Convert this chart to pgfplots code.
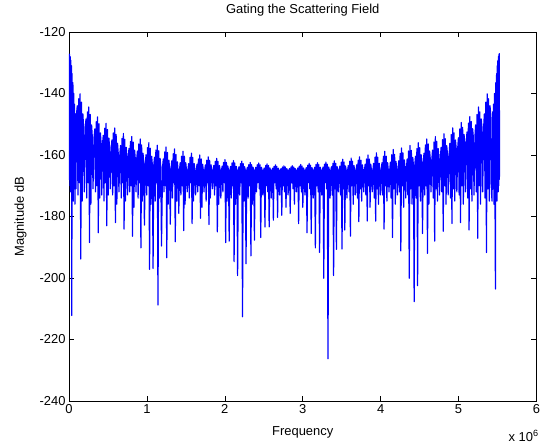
\documentclass[border=0pt]{standalone}
\usepackage{fontspec}
\setmainfont{Liberation Sans}
\usepackage{pgfplots}
\pgfplotsset{compat=1.18}

\begin{document}
\begin{tikzpicture}
\useasboundingbox (-69bp,-45bp) rectangle (471bp,401bp);
\begin{axis}[
    at={(0,0)}, anchor=south west,
    scale only axis,
    width=467.5bp, height=369bp,
    xmin=0, xmax=6, ymin=-240, ymax=-120,
    xtick={0,1,...,6},
    ytick={-240,-220,...,-120},
    tick align=inside, tick pos=both,
    major tick length=5bp,
    axis line style={line width=0.6bp},
    every tick/.style={black, line width=0.6bp},
    font=\fontsize{13}{15}\selectfont,
    /pgf/number format/assume math mode=true,
    title={Gating the Scattering Field},
    xlabel={Frequency},
    ylabel={Magnitude dB},
    title style={at={(axis description cs:0.5,1.035)}, anchor=base},
    every axis x label/.style={at={(axis description cs:0.5,-0.093)}, anchor=base},
    every axis y label/.style={at={(axis description cs:-0.0963,0.5)}, rotate=90, anchor=base},
]
% frequency in units of 10^6, magnitude in dB
\addplot[blue, line width=1.2pt, line join=round] table {
x y
0.000 -127.0
0.004 -168
0.008 -127.3
0.012 -170
0.016 -128.0
0.020 -172
0.024 -129.2
0.028 -170
0.032 -131.0
0.036 -212.2
0.040 -133.5
0.045 -172
0.050 -136.5
0.055 -175
0.060 -140.0
0.065 -171
0.070 -143.5
0.076 -176
0.082 -146.6
0.089 -171
0.097 -146.6
0.106 -144.0
0.115 -173
0.124 -141.7
0.133 -169
0.142 -140.1
0.151 -193.8
0.160 -142.8
0.169 -175
0.178 -146.6
0.187 -150.9
0.196 -172
0.209 -150.9
0.218 -148.3
0.227 -174
0.236 -146.0
0.245 -169
0.254 -144.4
0.263 -188.5
0.272 -146.8
0.281 -176
0.290 -150.2
0.299 -154.1
0.308 -171
0.322 -154.1
0.331 -151.5
0.340 -172
0.349 -149.2
0.358 -170
0.367 -147.6
0.376 -185.3
0.385 -149.8
0.394 -174
0.403 -152.8
0.412 -156.2
0.421 -173
0.431 -156.2
0.440 -153.6
0.449 -175
0.458 -151.3
0.467 -169
0.476 -149.7
0.485 -183.0
0.494 -151.7
0.503 -173
0.512 -154.5
0.521 -157.7
0.530 -171
0.542 -157.7
0.551 -155.1
0.560 -173
0.569 -152.8
0.578 -170
0.587 -151.2
0.596 -182.0
0.605 -153.3
0.614 -176
0.623 -156.2
0.632 -159.5
0.641 -172
0.653 -159.5
0.662 -156.9
0.671 -174
0.680 -154.6
0.689 -169
0.698 -153.0
0.707 -184.1
0.716 -154.9
0.725 -175
0.734 -157.5
0.743 -160.5
0.752 -173
0.761 -160.5
0.770 -157.9
0.779 -172
0.788 -155.6
0.797 -170
0.806 -154.0
0.815 -186.4
0.824 -155.8
0.833 -177
0.842 -158.4
0.851 -161.3
0.860 -172
0.869 -161.3
0.878 -158.7
0.887 -174
0.896 -156.4
0.905 -169
0.914 -154.8
0.923 -190.2
0.932 -156.7
0.941 -175
0.950 -159.4
0.959 -162.5
0.968 -182.8
0.980 -162.5
0.989 -159.9
0.998 -173
1.007 -157.6
1.016 -170
1.025 -156.0
1.034 -197.2
1.043 -157.8
1.052 -176
1.061 -160.4
1.070 -163.3
1.079 -196.9
1.088 -163.3
1.097 -160.7
1.106 -175
1.115 -158.4
1.124 -169
1.133 -156.8
1.142 -208.8
1.151 -158.6
1.160 -174
1.169 -161.1
1.178 -163.9
1.187 -189.6
1.201 -163.9
1.210 -161.3
1.219 -172
1.228 -159.0
1.237 -170
1.246 -157.4
1.255 -193.4
1.264 -159.2
1.273 -176
1.282 -161.7
1.291 -164.5
1.300 -182.5
1.310 -164.5
1.319 -161.9
1.328 -174
1.337 -159.6
1.346 -169
1.355 -158.0
1.364 -188.2
1.373 -159.8
1.382 -175
1.391 -162.2
1.400 -165.0
1.409 -179
1.418 -165.0
1.427 -162.5
1.436 -173
1.445 -160.4
1.454 -170
1.463 -158.8
1.472 -184.6
1.481 -160.4
1.490 -176
1.499 -162.5
1.508 -165.0
1.517 -172
1.526 -165.0
1.535 -162.8
1.544 -174
1.553 -160.8
1.562 -169
1.571 -159.4
1.580 -182.3
1.589 -160.8
1.598 -175
1.607 -162.8
1.616 -165.0
1.625 -173
1.634 -165.0
1.643 -163.0
1.652 -172
1.661 -161.3
1.670 -170
1.679 -160.0
1.688 -180.6
1.697 -161.3
1.706 -177
1.715 -163.0
1.724 -165.0
1.733 -172
1.742 -165.0
1.751 -163.2
1.760 -175
1.769 -161.7
1.778 -169
1.787 -160.6
1.796 -182.6
1.805 -161.7
1.814 -174
1.823 -163.2
1.832 -165.0
1.841 -171
1.850 -165.0
1.859 -163.4
1.868 -173
1.877 -162.1
1.886 -170
1.895 -161.1
1.904 -185.0
1.913 -162.1
1.922 -176
1.931 -163.4
1.940 -165.0
1.949 -174
1.957 -165.0
1.966 -163.6
1.975 -172
1.984 -162.4
1.993 -169
2.002 -161.5
2.011 -188.5
2.020 -162.4
2.029 -175
2.038 -163.6
2.047 -165.0
2.056 -188.0
2.065 -165.0
2.074 -163.7
2.083 -174
2.092 -162.6
2.101 -170
2.110 -161.8
2.119 -194.7
2.128 -162.6
2.137 -176
2.146 -163.7
2.155 -165.0
2.164 -199.2
2.173 -165.0
2.182 -163.8
2.191 -173
2.200 -162.8
2.209 -169
2.218 -162.0
2.227 -212.6
2.236 -162.8
2.245 -175
2.254 -163.8
2.263 -165.0
2.272 -195.4
2.281 -165.0
2.290 -164.0
2.299 -174
2.308 -163.1
2.317 -170
2.326 -162.4
2.335 -192.8
2.344 -163.1
2.353 -176
2.362 -164.0
2.371 -165.0
2.380 -187.7
2.389 -165.0
2.398 -164.0
2.407 -172
2.416 -163.2
2.425 -169
2.434 -162.6
2.443 -171
2.452 -163.2
2.461 -186.8
2.470 -164.0
2.479 -165.0
2.488 -173
2.497 -165.0
2.506 -164.2
2.515 -183.4
2.524 -163.4
2.533 -170
2.542 -162.9
2.551 -172
2.560 -163.4
2.569 -183.4
2.578 -164.2
2.587 -165.0
2.596 -174
2.605 -165.0
2.614 -164.3
2.623 -181.2
2.632 -163.7
2.641 -169
2.650 -163.2
2.659 -171
2.668 -163.7
2.677 -180.3
2.686 -164.3
2.695 -165.0
2.704 -173
2.713 -165.0
2.722 -164.4
2.731 -179.6
2.740 -163.9
2.749 -170
2.758 -163.5
2.767 -172
2.776 -163.9
2.785 -177
2.794 -164.4
2.803 -165.0
2.812 -173
2.821 -165.0
2.830 -164.4
2.839 -179.0
2.848 -163.9
2.857 -169
2.866 -163.5
2.875 -171
2.884 -163.9
2.893 -176
2.902 -164.4
2.911 -165.0
2.920 -172
2.929 -165.0
2.938 -164.2
2.947 -182.3
2.956 -163.6
2.965 -170
2.974 -163.1
2.983 -172
2.992 -163.6
3.001 -177
3.010 -164.2
3.019 -165.0
3.028 -173
3.037 -165.0
3.046 -164.1
3.055 -185.3
3.064 -163.3
3.073 -169
3.082 -162.7
3.091 -171
3.100 -163.3
3.109 -185.5
3.118 -164.1
3.127 -165.0
3.136 -174
3.144 -165.0
3.153 -164.0
3.162 -190.2
3.171 -163.1
3.180 -170
3.189 -162.5
3.198 -172
3.207 -163.1
3.216 -191.7
3.225 -164.0
3.234 -165.0
3.243 -173
3.252 -165.0
3.261 -163.9
3.270 -200.1
3.279 -163.0
3.288 -169
3.297 -162.3
3.306 -171
3.315 -163.0
3.324 -226.3
3.333 -163.9
3.342 -165.0
3.351 -174
3.360 -165.0
3.369 -163.8
3.378 -173
3.387 -162.7
3.396 -199.2
3.405 -161.9
3.414 -171
3.423 -162.7
3.432 -190.7
3.441 -163.8
3.450 -165.0
3.459 -172
3.468 -165.0
3.477 -163.6
3.486 -173
3.495 -162.3
3.504 -190.6
3.513 -161.4
3.522 -171
3.531 -162.3
3.540 -184.4
3.549 -163.6
3.558 -165.0
3.567 -174
3.576 -165.0
3.585 -163.4
3.594 -172
3.603 -162.0
3.612 -186.4
3.621 -161.0
3.630 -170
3.639 -162.0
3.648 -176
3.657 -163.4
3.666 -165.0
3.675 -173
3.684 -165.0
3.693 -163.2
3.702 -174
3.711 -161.7
3.720 -181.7
3.729 -160.6
3.738 -171
3.747 -161.7
3.756 -175
3.765 -163.2
3.774 -165.0
3.783 -172
3.792 -165.0
3.801 -163.0
3.810 -173
3.819 -161.3
3.828 -181.5
3.837 -160.0
3.846 -170
3.855 -161.3
3.864 -177
3.873 -163.0
3.882 -165.0
3.891 -172
3.900 -165.0
3.909 -162.7
3.918 -174
3.927 -160.7
3.936 -181.5
3.945 -159.3
3.954 -171
3.963 -160.7
3.972 -176
3.981 -162.7
3.990 -165.0
3.999 -173
4.008 -165.0
4.017 -162.5
4.026 -173
4.035 -160.4
4.044 -184.1
4.053 -158.8
4.062 -170
4.071 -160.4
4.080 -175
4.089 -162.5
4.098 -165.0
4.107 -172
4.116 -165.0
4.125 -162.3
4.134 -174
4.143 -159.9
4.152 -186.8
4.161 -158.2
4.170 -171
4.179 -159.8
4.188 -176
4.197 -162.1
4.206 -164.7
4.215 -173
4.223 -164.7
4.232 -161.9
4.241 -172
4.250 -159.5
4.259 -191.2
4.268 -157.7
4.277 -170
4.286 -159.3
4.295 -177
4.304 -161.6
4.313 -164.2
4.322 -174
4.331 -164.2
4.340 -161.3
4.349 -173
4.358 -158.7
4.367 -200.1
4.376 -156.9
4.385 -171
4.394 -158.5
4.403 -176
4.412 -160.8
4.421 -163.4
4.430 -207.7
4.438 -163.4
4.447 -160.4
4.456 -174
4.465 -157.9
4.474 -202.5
4.483 -156.0
4.492 -170
4.501 -157.6
4.510 -175
4.519 -159.9
4.528 -162.5
4.537 -185.5
4.547 -162.5
4.556 -159.4
4.565 -173
4.574 -156.7
4.583 -170
4.592 -154.8
4.601 -192.0
4.610 -156.4
4.619 -176
4.628 -158.7
4.637 -161.3
4.646 -172
4.657 -161.3
4.666 -158.4
4.675 -174
4.684 -155.8
4.693 -188.0
4.702 -154.0
4.711 -171
4.720 -155.6
4.729 -175
4.738 -157.9
4.747 -160.5
4.756 -173
4.767 -160.5
4.776 -157.5
4.785 -172
4.794 -155.0
4.803 -184.8
4.812 -153.1
4.821 -170
4.830 -154.7
4.839 -176
4.848 -157.0
4.857 -159.6
4.866 -173
4.879 -159.6
4.888 -156.2
4.897 -174
4.906 -153.3
4.915 -182.3
4.924 -151.2
4.933 -171
4.942 -152.8
4.951 -175
4.960 -155.1
4.969 -157.7
4.978 -172
4.989 -157.7
4.998 -154.4
5.007 -173
5.016 -151.5
5.025 -182.0
5.034 -149.4
5.043 -170
5.052 -151.0
5.061 -176
5.070 -153.3
5.079 -155.9
5.088 -172
5.099 -155.9
5.108 -152.5
5.117 -174
5.126 -149.6
5.135 -184.4
5.144 -147.5
5.153 -171
5.162 -149.1
5.171 -175
5.180 -151.4
5.189 -154.0
5.198 -173
5.210 -154.0
5.219 -150.2
5.228 -172
5.237 -146.8
5.246 -187.1
5.255 -144.4
5.264 -170
5.273 -146.0
5.282 -176
5.291 -148.3
5.300 -150.9
5.309 -172
5.322 -150.9
5.331 -146.6
5.340 -174
5.349 -142.8
5.358 -191.7
5.367 -140.1
5.376 -171
5.385 -141.7
5.394 -175
5.403 -144.0
5.412 -146.6
5.421 -172
5.430 -175
5.437 -146.0
5.443 -171
5.449 -143.5
5.455 -176
5.461 -140.0
5.467 -172
5.473 -203.6
5.478 -136.5
5.483 -172
5.488 -133.5
5.492 -175
5.496 -131.0
5.500 -170
5.504 -129.2
5.508 -172
5.512 -128.0
5.516 -170
5.519 -127.3
5.521 -168
5.523 -127.0
5.525 -167
};
\end{axis}
\node[anchor=base west, font=\fontsize{13}{15}\selectfont] at (436bp,-40bp) {x 10\textsuperscript{6}};
\end{tikzpicture}
\end{document}
